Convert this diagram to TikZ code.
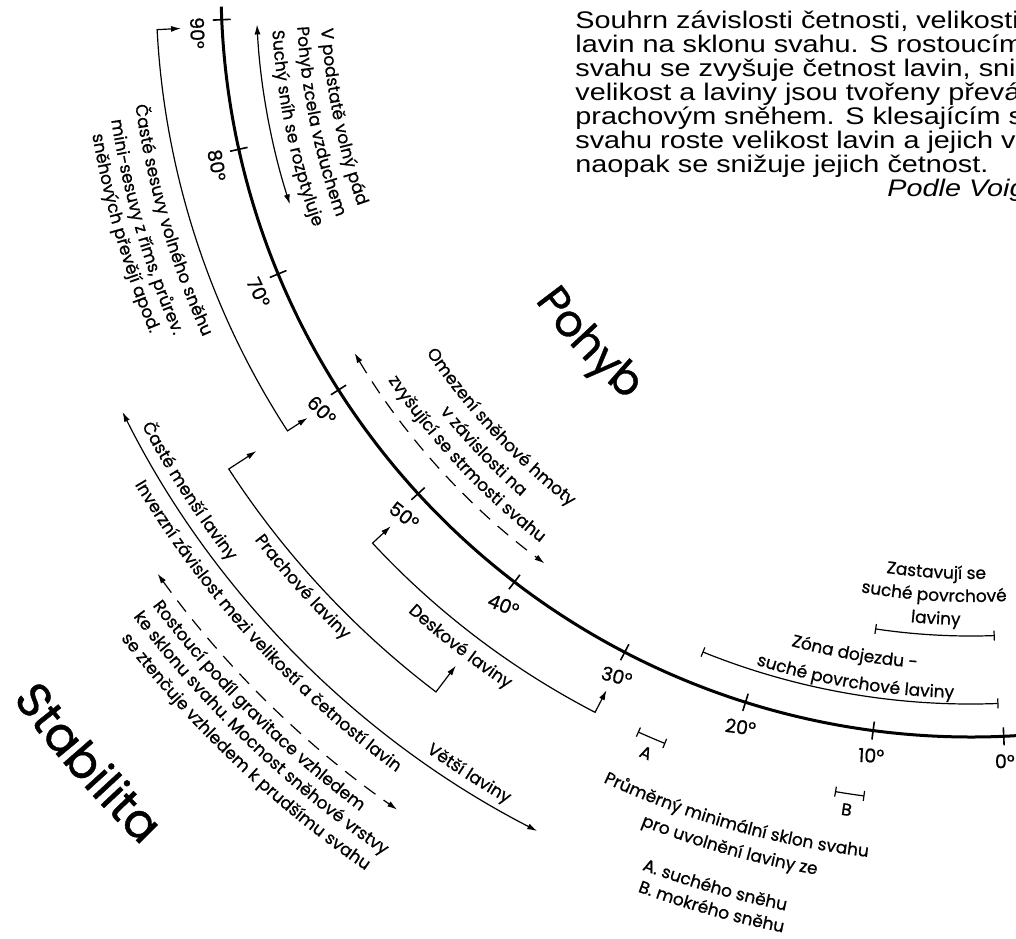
\documentclass[tikz,border=0pt]{standalone}
\usepackage{fontspec}
\setmainfont{Liberation Sans}[FakeStretch=1.2]
\newfontfamily\handfont{Poppins}[FakeBold=0.8]
\usetikzlibrary{arrows.meta,calc,decorations.text}

\newcommand{\lab}{\handfont\fontsize{8.5}{10}\selectfont}
\newcommand{\bigword}{\handfont\fontsize{22}{26}\selectfont}
\newcommand{\hugeword}{\handfont\fontsize{24}{28}\selectfont}
% text bent round the centre C: [font]{radius}{centre angle}{text}
\newcommand{\arclabel}[4][\lab]{%
  \path[decorate,decoration={text along path,text align=center,text={|#1|#4}}]
    ($(C)+({#3+45}:#2)$) arc[start angle={#3+45},end angle={#3-45},radius=#2];}

\tikzset{
  slopearc/.style={line width=1.5pt},
  tickmark/.style={line width=0.8pt},
  guide/.style={line width=0.6pt},
  twoway/.style={guide,{Latex[length=5pt,width=3pt]}-{Latex[length=5pt,width=3pt]}},
  dashedway/.style={twoway,dash pattern=on 7pt off 5pt},
  spanbar/.style={guide,{Bar[width=5pt]}-{Bar[width=5pt]}},
  ticklab/.style={font=\handfont\fontsize{9.5}{11}\selectfont,inner sep=0pt},
  para/.style={font=\fontsize{12}{12}\selectfont,inner sep=0pt,anchor=base west},
}

\begin{document}
\begin{tikzpicture}[x=0.5pt,y=-0.5pt]
    \useasboundingbox (0,0) rectangle (1016,938);
    \coordinate (C) at (971,-13);

    % slope scale
    \draw[slopearc] ($(C)+(178.5:750)$) arc[start angle=178.5,end angle=84,radius=750];
    \foreach \ang/\rot in {0/0,10/-3,20/-8,30/-15,40/-22,50/-38,60/-45,70/-65,80/-80,90/-88} {
        \draw[tickmark] ($(C)+({87.5+\ang}:741)$) -- ($(C)+({87.5+\ang}:759)$);
        \node[ticklab,rotate=\rot] (deg\ang) at ($(C)+({87.5+0.99*\ang}:775)$) {\ang°};
    }

    % brackets and arrows
    \draw[twoway] ($(C)+(177:791)$) -- ($(C)+(177:815)$)
        arc[start angle=177,end angle=147,radius=815] -- ($(C)+(147:791)$);
    \draw[twoway] ($(C)+(147:852)$) -- ($(C)+(147:885)$)
        arc[start angle=147,end angle=127.2,radius=885] -- ($(C)+(127.2:852)$);
    \draw[twoway] ($(C)+(137.1:792)$) -- ($(C)+(137.1:817)$)
        arc[start angle=137.1,end angle=117.4,radius=817] -- ($(C)+(117.4:792)$);
    \draw[twoway] ($(C)+(177:715)$) arc[start angle=177,end angle=162.3,radius=715];
    \draw[dashedway] ($(C)+(149.3:717)$) arc[start angle=149.3,end angle=126.5,radius=717];
    \draw[twoway] ($(C)+(153.4:949)$) arc[start angle=153.4,end angle=117.2,radius=949];
    \draw[dashedway] ($(C)+(144.2:1003)$) arc[start angle=144.2,end angle=124.9,radius=1003];

    % ranges
    \draw[spanbar] ($(C)+(112:717)$) arc[start angle=112,end angle=87.8,radius=717];
    \draw[spanbar] ($(C)+(98.5:649)$) arc[start angle=98.5,end angle=87.9,radius=649];
    \draw[spanbar] ($(C)+(114.1:816)$) arc[start angle=114.1,end angle=112,radius=816];
    \draw[spanbar] ($(C)+(99.6:816)$) arc[start angle=99.6,end angle=97.5,radius=816];
    \node[ticklab,font=\lab,rotate=-23] (labA) at ($(C)+(113:832)$) {A};
    \node[ticklab,font=\lab,rotate=-8.6] (labB) at ($(C)+(98.6:832)$) {B};

    % labels
    \arclabel{844}{163.75}{Časté sesuvy volného sněhu}
    \arclabel{870}{163.8}{mini-sesuvy z říms, průrev.}
    \arclabel{891}{163.8}{sněhových převějí apod.}
    \arclabel{651}{168.35}{V podstatě volný pád}
    \arclabel{675}{168.35}{Pohyb zcela vzduchem}
    \arclabel{700}{168.2}{Suchý sníh se rozptyluje}
    \arclabel{656}{136.9}{Omezení sněhové hmoty}
    \arclabel{680}{136.4}{v závislosti na}
    \arclabel{703}{136.9}{zvyšující se strmosti svahu}
    \arclabel[\bigword]{537}{137}{Pohyb}
    \arclabel{938}{147.2}{Časté menší laviny}
    \arclabel{973}{137.75}{Inverzní závislost mezi velikostí a četností lavin}
    \arclabel{939}{122.55}{Větší laviny}
    \arclabel{905}{138.1}{Prachové laviny}
    \arclabel{841}{127.75}{Deskové laviny}
    \arclabel{1026}{134.75}{Rostoucí podíl gravitace vzhledem}
    \arclabel{1048}{133.6}{ke sklonu svahu. Mocnost sněhové vrstvy}
    \arclabel{1071}{133.5}{se ztenčuje vzhledem k prudšímu svahu}
    \arclabel[\hugeword]{1194}{138.7}{Stabilita}
    \arclabel{683}{99.9}{Zóna dojezdu -}
    \arclabel{711}{99.5}{suché povrchové laviny}
    \arclabel{592}{93.4}{Zastavují se}
    \arclabel{615}{93.5}{suché povrchové}
    \arclabel{638}{93.2}{laviny}
    \arclabel{876}{105.8}{Průměrný minimální sklon svahu}
    \arclabel{901}{105.7}{pro uvolnění laviny ze}
    \arclabel{942}{105.9}{A. suchého sněhu}
    \arclabel{964}{105.75}{B. mokrého sněhu}

    % summary text
    \foreach \i/\txt in {1/{Souhrn závislosti četnosti, velikosti},
                         2/{lavin na sklonu svahu. S rostoucím},
                         3/{svahu se zvyšuje četnost lavin, sni},
                         4/{velikost a laviny jsou tvořeny převá},
                         5/{prachovým sněhem. S klesajícím s},
                         6/{svahu roste velikost lavin a jejich v},
                         7/{naopak se snižuje jejich četnost.}}
        \node[para] (line\i) at (575,{4+24*\i}) {\txt};
    \node[para,font=\fontsize{12}{12}\selectfont\itshape] (source) at (887,196) {Podle Voig};
\end{tikzpicture}
\end{document}
